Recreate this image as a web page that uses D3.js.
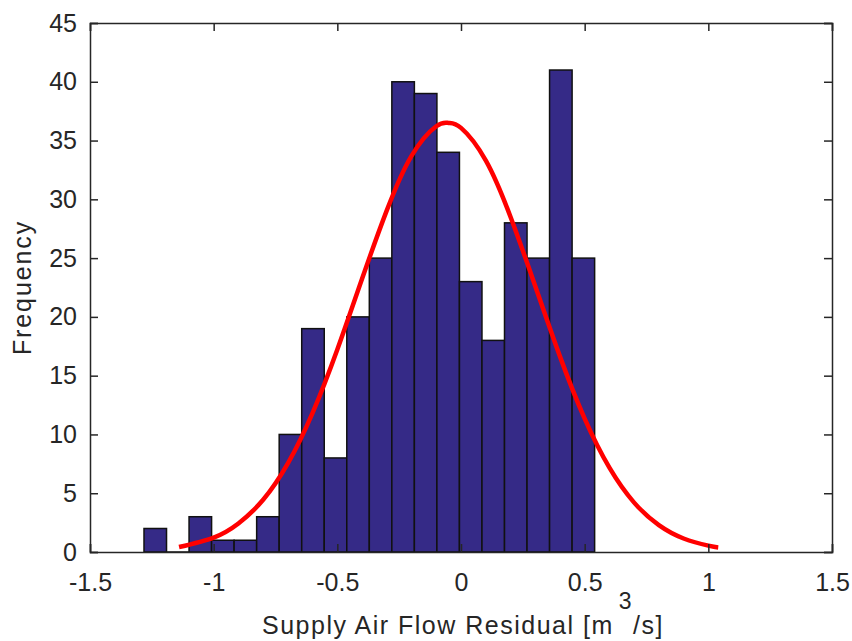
<!DOCTYPE html>
<html>
<head>
<meta charset="utf-8">
<script src="https://cdn.jsdelivr.net/npm/d3@7"></script>
<style>
  body { margin: 0; background: #fff; }
  svg text { font-family: "Liberation Sans", Arial, sans-serif; fill: #262626; }
</style>
</head>
<body>
<svg id="chart" width="852" height="641"></svg>
<script>
// histogram bins (left edge of first bin, bin width) and counts
const binStart = -1.2817;
const binWidth = 0.0911;
const counts = [2, 0, 3, 1, 1, 3, 10, 19, 8, 20, 25, 40, 39, 34, 23, 18, 28, 25, 41, 25];

// fitted normal curve
const curveX = [-1.14, -1.0, -0.9, -0.8, -0.7, -0.6, -0.5, -0.4, -0.3, -0.2, -0.1, -0.05, 0.0, 0.1, 0.2, 0.3, 0.4, 0.5, 0.6, 0.7, 0.8, 0.9, 1.0, 1.04];
const curveY = [0.42, 1.23, 2.43, 4.44, 7.53, 11.83, 17.22, 23.24, 29.06, 33.7, 36.22, 36.5, 36.08, 33.32, 28.52, 22.63, 16.64, 11.34, 7.17, 4.2, 2.28, 1.15, 0.54, 0.39];

const xTicks = [-1.5, -1, -0.5, 0, 0.5, 1, 1.5];
const yTicks = [0, 5, 10, 15, 20, 25, 30, 35, 40, 45];

const width = 852, height = 641;
const margin = { top: 23, right: 20, bottom: 89, left: 90 };

const svg = d3.select('#chart');

const x = d3.scaleLinear().domain([-1.5, 1.5]).range([margin.left, width - margin.right]);
const y = d3.scaleLinear().domain([0, 45]).range([height - margin.bottom, margin.top]);

const axisColor = '#262626';
const tickFont = '25px';
const labelFont = '25px';

// bars
const bins = counts.map((c, i) => ({ x0: binStart + i * binWidth, x1: binStart + (i + 1) * binWidth, n: c }));
svg.append('g')
  .selectAll('rect')
  .data(bins.filter(d => d.n > 0))
  .join('rect')
  .attr('x', d => x(d.x0))
  .attr('y', d => y(d.n))
  .attr('width', d => x(d.x1) - x(d.x0))
  .attr('height', d => y(0) - y(d.n))
  .attr('fill', '#352a87')
  .attr('stroke', '#111')
  .attr('stroke-width', 1.5);

// zero-height bins still show a baseline segment
svg.append('g')
  .selectAll('line')
  .data(bins.filter(d => d.n === 0))
  .join('line')
  .attr('x1', d => x(d.x0)).attr('x2', d => x(d.x1))
  .attr('y1', y(0)).attr('y2', y(0))
  .attr('stroke', '#111').attr('stroke-width', 1.5);

// normal fit
const line = d3.line()
  .x((d, i) => x(curveX[i]))
  .y(d => y(d))
  .curve(d3.curveNatural);

svg.append('path')
  .datum(curveY)
  .attr('fill', 'none')
  .attr('stroke', '#ff0000')
  .attr('stroke-width', 4.5)
  .attr('d', line);

// axes (box with ticks on all sides, pointing inward)
const tickLen = 8;
const fmt = d => String(d);   // plain hyphen minus like MATLAB

const xAxisB = svg.append('g')
  .attr('transform', `translate(0,${y(0)})`)
  .call(d3.axisBottom(x).tickValues(xTicks).tickSize(-tickLen).tickPadding(21).tickFormat(fmt));
const xAxisT = svg.append('g')
  .attr('transform', `translate(0,${y(45)})`)
  .call(d3.axisTop(x).tickValues(xTicks).tickSize(-tickLen).tickFormat(''));
const yAxisL = svg.append('g')
  .attr('transform', `translate(${x(-1.5)},0)`)
  .call(d3.axisLeft(y).tickValues(yTicks).tickSize(-tickLen).tickPadding(13).tickFormat(fmt));
const yAxisR = svg.append('g')
  .attr('transform', `translate(${x(1.5)},0)`)
  .call(d3.axisRight(y).tickValues(yTicks).tickSize(-tickLen).tickFormat(''));

[xAxisB, xAxisT, yAxisL, yAxisR].forEach(g => {
  g.select('.domain').attr('stroke', axisColor).attr('stroke-width', 1.5);
  g.selectAll('.tick line').attr('stroke', axisColor).attr('stroke-width', 1.5);
  g.selectAll('.tick text').style('font-size', tickFont).attr('fill', axisColor)
    .style('font-family', '"Liberation Sans", Arial, sans-serif');
});

// axis labels
const xLabel = svg.append('text')
  .attr('x', 262)
  .attr('y', 634)
  .attr('text-anchor', 'start')
  .style('font-size', labelFont)
  .style('letter-spacing', '1.5px');
xLabel.append('tspan').text('Supply Air Flow Residual [m');
xLabel.append('tspan').attr('dx', 5).attr('dy', -25).style('font-size', '23px').text('3');
xLabel.append('tspan').attr('dy', 25).text('/s]');

svg.append('text')
  .attr('transform', `translate(31,${(y(0) + y(45)) / 2}) rotate(-90)`)
  .attr('text-anchor', 'middle')
  .style('font-size', labelFont)
  .style('letter-spacing', '1.9px')
  .text('Frequency');
</script>
</body>
</html>
